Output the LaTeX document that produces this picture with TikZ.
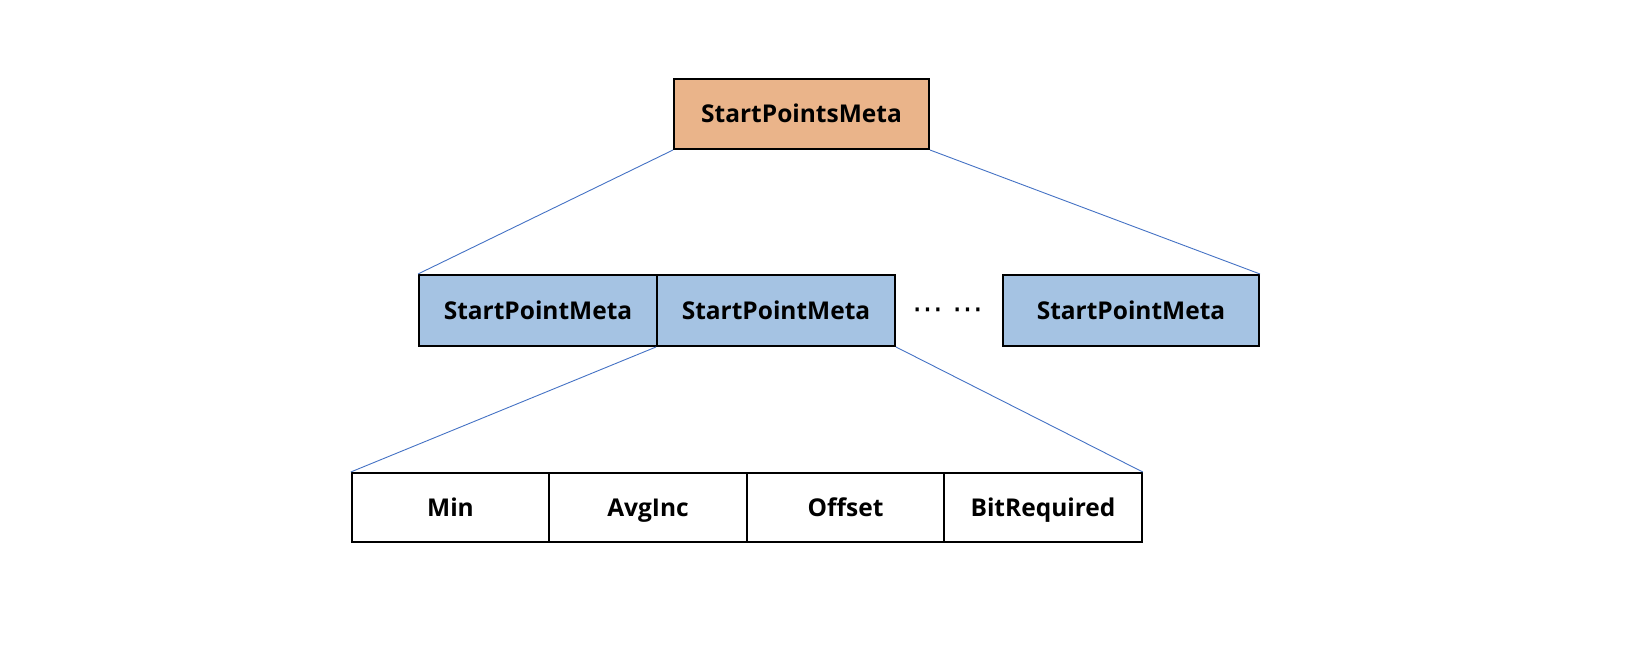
\documentclass[tikz,border=0pt]{standalone}
\usepackage{fontspec}
\setmainfont{Open Sans}
\newfontfamily\dvfont{DejaVu Sans}
\definecolor{peach}{HTML}{EAB48A}
\definecolor{paleblue}{HTML}{A5C3E3}
\definecolor{linkblue}{HTML}{4472C4}
\begin{document}
\begin{tikzpicture}[x=1pt,y=-1pt,
  cellbox/.style={draw=black, line width=2pt, rectangle, inner sep=0pt,
    text height=20pt, text depth=2pt,
    font=\fontsize{24.5}{28}\selectfont\bfseries, text=black},
  topbox/.style={cellbox, fill=peach, minimum width=255, minimum height=70},
  midbox/.style={cellbox, fill=paleblue, minimum height=71},
  lowbox/.style={cellbox, fill=white, minimum height=69, minimum width=197.5},
  conn/.style={draw=linkblue, line width=0.9pt}]
\useasboundingbox (0,0) rectangle (1638,650);
\node[topbox] (top) at (801.5,114) {StartPointsMeta};
\node[midbox, minimum width=238] (m1) at (538,310.5) {StartPointMeta};
\node[midbox, minimum width=238] (m2) at (776,310.5) {StartPointMeta};
\node[midbox, minimum width=256] (m3) at (1131,310.5) {StartPointMeta};
\node[font=\dvfont\fontsize{31}{34}\selectfont, inner sep=0pt, anchor=base] (dots) at (948,319) {⋯ ⋯};
\node[lowbox] (b1) at (450.5,507.5) {Min};
\node[lowbox] (b2) at (648,507.5) {AvgInc};
\node[lowbox] (b3) at (845.5,507.5) {Offset};
\node[lowbox] (b4) at (1043,507.5) {BitRequired};
\draw[conn] (top.south west) -- (m1.north west);
\draw[conn] (top.south east) -- (m3.north east);
\draw[conn] (m2.south west) -- (b1.north west);
\draw[conn] (m2.south east) -- (b4.north east);
\end{tikzpicture}
\end{document}
